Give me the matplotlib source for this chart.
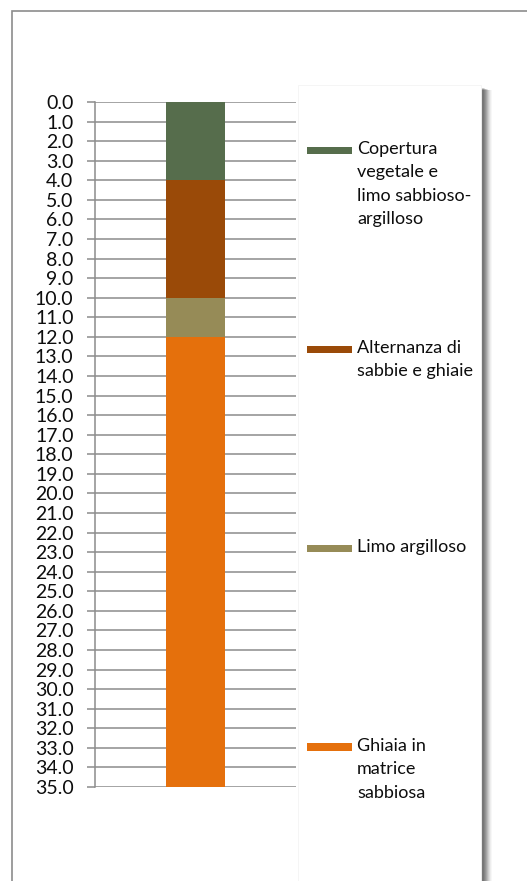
import matplotlib
matplotlib.use("Agg")
import matplotlib.pyplot as plt
from matplotlib.patches import Rectangle
import numpy as np

# ---- data ----
layers = ["Copertura\nvegetale e\nlimo sabbioso-\nargilloso",
          "Alternanza di\nsabbie e ghiaie",
          "Limo argilloso",
          "Ghiaia in\nmatrice\nsabbiosa"]
thickness = [4.0, 6.0, 2.0, 23.0]
colors = ["#566D4C", "#9A4A08", "#968B57", "#E5700C"]
depth_ticks = np.arange(0, 36, 1.0)

plt.rcParams['font.family'] = ['Lato', 'DejaVu Sans']

W, H = 527, 881
fig = plt.figure(figsize=(W / 100, H / 100), dpi=100)
fig.patch.set_facecolor("white")

def fx(x):
    return x / W

def fy(y):
    return 1 - y / H

# outer chart border
fig.patches.append(Rectangle((fx(12), fy(905)), fx(540) - fx(12), fy(11) - fy(905),
                             transform=fig.transFigure, fill=False,
                             edgecolor="#8c8c8c", linewidth=1.2, zorder=0))

# plot area
ax = fig.add_axes([fx(95), fy(787), fx(296) - fx(95), fy(102) - fy(787)])
ax.set_facecolor("none")
bottom = 0.0
for name, t, c in zip(layers, thickness, colors):
    ax.bar(0.5, t, width=0.29, bottom=bottom, color=c, label=name, zorder=3)
    bottom += t
ax.set_xlim(0, 1)
ax.set_ylim(35, 0)
ax.set_yticks(depth_ticks)
ax.set_yticklabels([f"{v:.1f}" for v in depth_ticks], fontsize=14, color="#0d0d0d")
ax.set_xticks([])
ax.yaxis.grid(True, color="#8c8c8c", linewidth=1.1, zorder=1)
ax.set_axisbelow(True)
for s in ["top", "right", "bottom"]:
    ax.spines[s].set_visible(False)
ax.spines["left"].set_color("#8c8c8c")
ax.spines["left"].set_linewidth(1.1)
ax.tick_params(axis="y", length=5.5, width=1.1, color="#8c8c8c", pad=10)

# legend box with shadow
lx0, lx1, ly0 = 298, 481, 85
for i, a in enumerate([0.10, 0.10, 0.10, 0.10, 0.09, 0.08, 0.06, 0.04, 0.03]):
    fig.patches.append(Rectangle((fx(lx0 + 3 + i), fy(910)), fx(lx1) - fx(lx0), fy(ly0 + 3 + i * 0.3) - fy(910),
                                 transform=fig.transFigure, facecolor="black", alpha=a,
                                 edgecolor="none", zorder=1))
fig.patches.append(Rectangle((fx(lx0), fy(910)), fx(lx1) - fx(lx0), fy(ly0) - fy(910),
                             transform=fig.transFigure, facecolor="white",
                             edgecolor="#f4f4f4", linewidth=0.6, zorder=2))

# legend entries
entry_y = [150, 349, 548, 747]
for name, c, y in zip(layers, colors, entry_y):
    fig.patches.append(Rectangle((fx(307), fy(y + 3.5)), fx(352) - fx(307), fy(y - 3.5) - fy(y + 3.5),
                                 transform=fig.transFigure, facecolor=c, edgecolor="none", zorder=3))
    fig.text(fx(357), fy(y - 9), name, fontsize=13, color="#0d0d0d",
             ha="left", va="top", linespacing=1.57, zorder=4)

fig.savefig("out.png", dpi=100)
